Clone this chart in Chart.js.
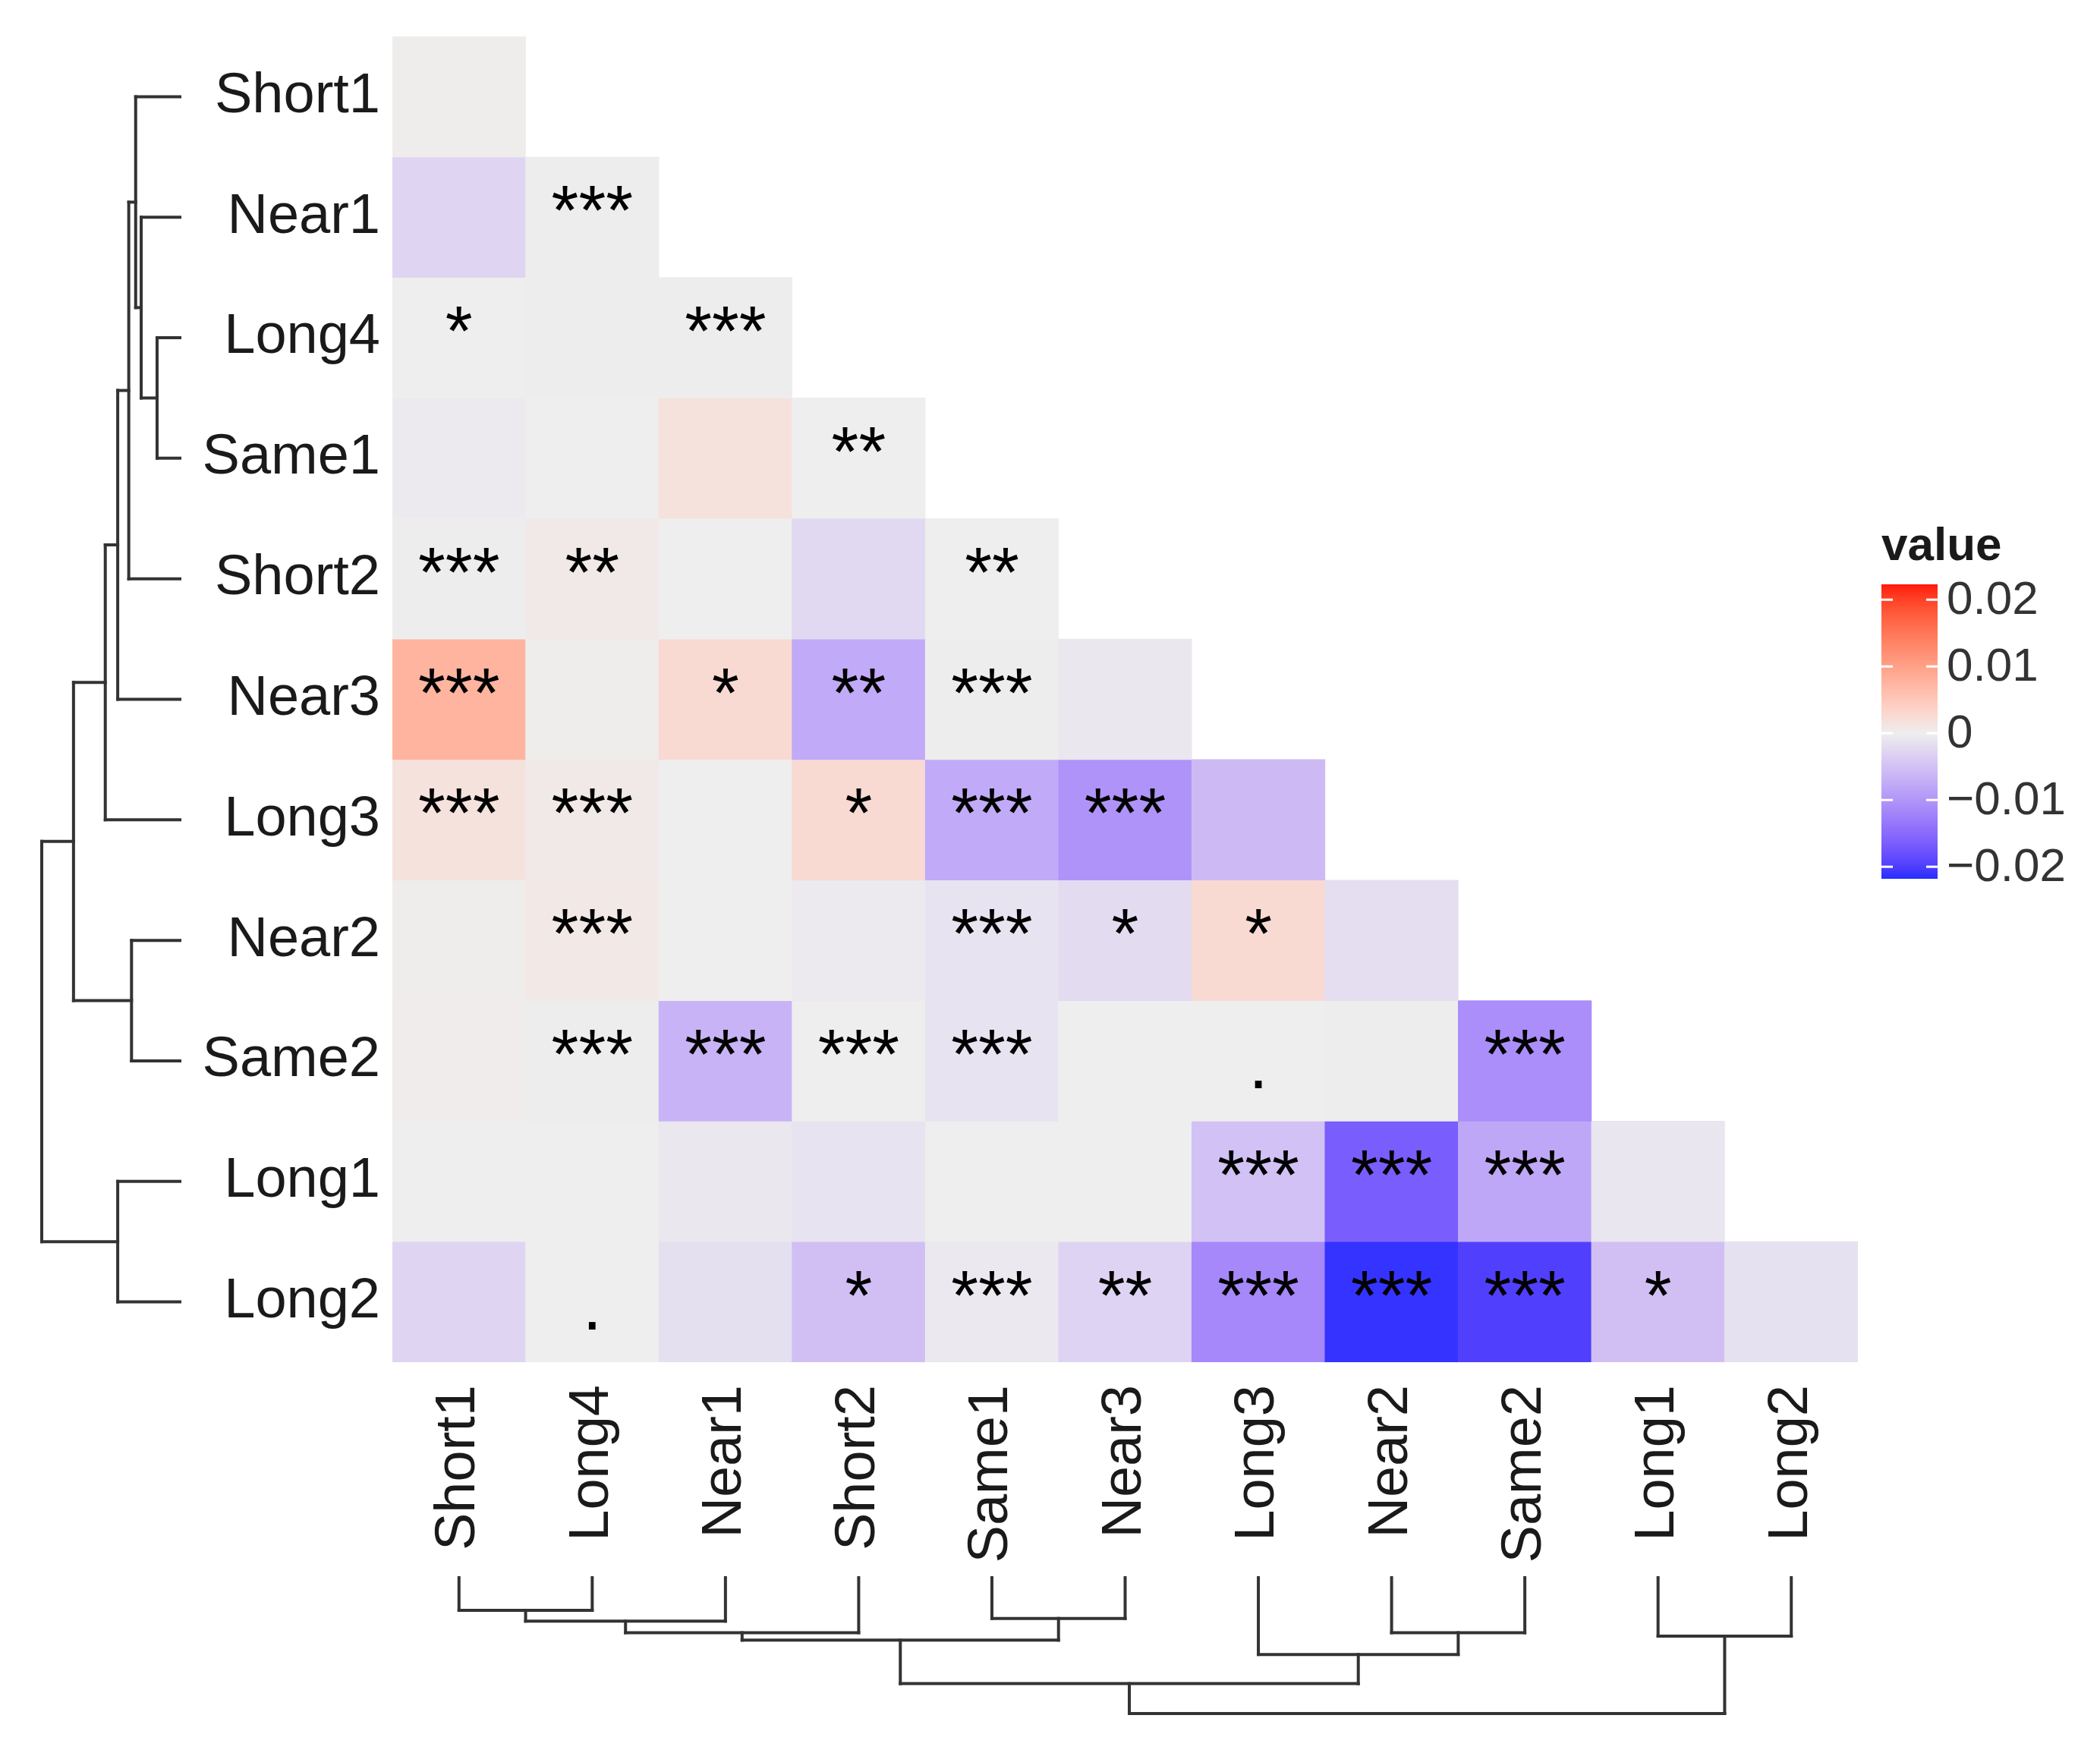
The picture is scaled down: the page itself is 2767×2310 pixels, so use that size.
<!DOCTYPE html>
<html>
<head>
<meta charset="utf-8">
<script src="https://cdn.jsdelivr.net/npm/chart.js@4.4.1/dist/chart.umd.min.js"></script>
<style>
  html, body { margin: 0; background: #fff; }
  #wrap { width: 2767px; height: 2310px; position: relative; }
</style>
</head>
<body>
<div id="wrap"><canvas id="heat"></canvas></div>
<script>
// rows top -> bottom, columns left -> right (dendrogram order)
const rowLabels = ['Short1', 'Near1', 'Long4', 'Same1', 'Short2', 'Near3', 'Long3', 'Near2', 'Same2', 'Long1', 'Long2'];
const colLabels = ['Short1', 'Long4', 'Near1', 'Short2', 'Same1', 'Near3', 'Long3', 'Near2', 'Same2', 'Long1', 'Long2'];

// lower triangle, row i has i+1 cells
const cellValues = [
  [0.0002],
  [-0.0028, 0.0001],
  [0.0000, 0.0001, 0.0001],
  [-0.0004, 0.0000, 0.0016, 0.0000],
  [0.0001, 0.0006, 0.0000, -0.0024, 0.0000],
  [0.0076, 0.0002, 0.0026, -0.0076, 0.0001, -0.0008],
  [0.0016, 0.0007, 0.0000, 0.0026, -0.0076, -0.0102, -0.0058],
  [0.0002, 0.0008, 0.0000, -0.0004, -0.0012, -0.0020, 0.0026, -0.0018],
  [0.0003, 0.0001, -0.0066, 0.0000, -0.0012, 0.0000, 0.0000, 0.0001, -0.0108],
  [0.0000, 0.0000, -0.0008, -0.0012, 0.0000, 0.0000, -0.0050, -0.0165, -0.0080, -0.0009],
  [-0.0028, 0.0000, -0.0016, -0.0052, -0.0006, -0.0030, -0.0115, -0.0212, -0.0198, -0.0052, -0.0014]
];
const cellStars = [
  [''],
  ['', '***'],
  ['*', '', '***'],
  ['', '', '', '**'],
  ['***', '**', '', '', '**'],
  ['***', '', '*', '**', '***', ''],
  ['***', '***', '', '*', '***', '***', ''],
  ['', '***', '', '', '***', '*', '*', ''],
  ['', '***', '***', '***', '***', '', '.', '', '***'],
  ['', '', '', '', '', '', '***', '***', '***', ''],
  ['', '.', '', '*', '***', '**', '***', '***', '***', '*', '']
];

// hclust-style merges: positive = leaf (1-based, display order), negative = earlier merge
const rowMerges = [
  [3, 4, 0.165], [2, -1, 0.28], [1, -2, 0.32], [-3, 5, 0.37], [-4, 6, 0.45],
  [-5, 7, 0.54], [8, 9, 0.35], [-6, -7, 0.77], [10, 11, 0.45], [-8, -9, 1.0]
];
const colMerges = [
  [1, 2, 0.24], [-1, 3, 0.32], [-2, 4, 0.405], [5, 6, 0.30], [-3, -4, 0.46],
  [8, 9, 0.405], [7, -6, 0.565], [-5, -7, 0.78], [10, 11, 0.43], [-8, -9, 1.0]
];

const legendTitle = 'value';
const legendTicks = [0.02, 0.01, 0, -0.01, -0.02];
const legendLimits = [-0.0218, 0.0223];

// ---- colour scale: gradient2 interpolated in Lab (blue - grey - red)
const WHITE = [0.95047, 1, 1.08883];
const toLin = c => { c /= 255; return c <= 0.04045 ? c / 12.92 : Math.pow((c + 0.055) / 1.055, 2.4); };
const fromLin = c => { const v = c <= 0.0031308 ? 12.92 * c : 1.055 * Math.pow(c, 1 / 2.4) - 0.055; return Math.round(Math.max(0, Math.min(1, v)) * 255); };
const fLab = t => t > 0.008856 ? Math.cbrt(t) : 7.787 * t + 16 / 116;
const fInv = t => t > 0.206893 ? t * t * t : (t - 16 / 116) / 7.787;
function rgbToLab(rgb) {
  const [r, g, b] = rgb.map(toLin);
  const X = 0.4124 * r + 0.3576 * g + 0.1805 * b, Y = 0.2126 * r + 0.7152 * g + 0.0722 * b, Z = 0.0193 * r + 0.1192 * g + 0.9505 * b;
  const fx = fLab(X / WHITE[0]), fy = fLab(Y / WHITE[1]), fz = fLab(Z / WHITE[2]);
  return [116 * fy - 16, 500 * (fx - fy), 200 * (fy - fz)];
}
function labToRgb([L, a, b]) {
  const fy = (L + 16) / 116, fx = fy + a / 500, fz = fy - b / 200;
  const X = fInv(fx) * WHITE[0], Y = fInv(fy) * WHITE[1], Z = fInv(fz) * WHITE[2];
  return [3.2406 * X - 1.5372 * Y - 0.4986 * Z, -0.9689 * X + 1.8758 * Y + 0.0415 * Z, 0.0557 * X - 0.2040 * Y + 1.0570 * Z].map(fromLin);
}
const LOW = rgbToLab([0, 40, 255]), MID = rgbToLab([238, 238, 238]), HIGH = rgbToLab([255, 20, 10]);
const maxAbs = Math.max(Math.abs(legendLimits[0]), Math.abs(legendLimits[1]));
function fillColor(v) {
  const t = Math.max(-1, Math.min(1, v / maxAbs));
  const end = t < 0 ? LOW : HIGH, k = Math.abs(t);
  const rgb = labToRgb(MID.map((m, i) => m + (end[i] - m) * k));
  return `rgb(${rgb[0]},${rgb[1]},${rgb[2]})`;
}

// one floating-bar dataset per row
const datasets = rowLabels.map((name, r) => ({
  label: name,
  data: colLabels.map((c, j) => j <= r ? [r, r + 1] : null),
  backgroundColor: colLabels.map((c, j) => j <= r ? fillColor(cellValues[r][j]) : 'transparent'),
  borderWidth: 0,
  grouped: false,
  barPercentage: 1,
  categoryPercentage: 1
}));

const FONT = "'Liberation Sans', Arial, sans-serif";

const whiteBg = {
  id: 'whiteBg',
  beforeDraw(chart) {
    const ctx = chart.ctx;
    ctx.save(); ctx.fillStyle = '#fff'; ctx.fillRect(0, 0, chart.width, chart.height); ctx.restore();
  }
};

const starLabels = {
  id: 'starLabels',
  afterDatasetsDraw(chart) {
    const { ctx, scales: { x, y } } = chart;
    ctx.save();
    ctx.font = `92px ${FONT}`;
    ctx.fillStyle = '#000';
    ctx.textAlign = 'center';
    ctx.textBaseline = 'alphabetic';
    cellStars.forEach((row, r) => row.forEach((s, j) => {
      if (!s) return;
      const dy = s === '.' ? 36 : 23;
      ctx.fillText(s, x.getPixelForValue(j), y.getPixelForValue(r + 0.5) + dy);
    }));
    ctx.restore();
  }
};

function drawDendro(ctx, merges, leafPos, toPx) {
  const nodes = [];
  const get = id => id > 0 ? { pos: leafPos(id - 1), h: 0 } : nodes[-id - 1];
  const seg = (p1, h1, p2, h2) => {
    const a = toPx(p1, h1), b = toPx(p2, h2);
    ctx.beginPath(); ctx.moveTo(a[0], a[1]); ctx.lineTo(b[0], b[1]); ctx.stroke();
  };
  merges.forEach(([m1, m2, h]) => {
    const A = get(m1), B = get(m2);
    seg(A.pos, A.h, A.pos, h);
    seg(B.pos, B.h, B.pos, h);
    seg(A.pos, h, B.pos, h);
    nodes.push({ pos: (A.pos + B.pos) / 2, h });
  });
}

const dendrograms = {
  id: 'dendrograms',
  afterDraw(chart) {
    const { ctx, scales: { x, y } } = chart;
    ctx.save();
    ctx.strokeStyle = '#333';
    ctx.lineWidth = 4;
    ctx.lineCap = 'square';
    const leftTip = y.left, leftRoot = 55;
    drawDendro(ctx, rowMerges, i => y.getPixelForValue(i + 0.5),
      (p, h) => [leftTip - h * (leftTip - leftRoot), p]);
    const bottomTip = x.bottom + 4, bottomRoot = 2258;
    drawDendro(ctx, colMerges, j => x.getPixelForValue(j),
      (p, h) => [p, bottomTip + h * (bottomRoot - bottomTip)]);
    ctx.restore();
  }
};

const colourBar = {
  id: 'colourBar',
  afterDraw(chart) {
    const ctx = chart.ctx;
    const bx = 2479, bw = 74, top = 770, bottom = 1158;
    const [lo, hi] = legendLimits;
    const vy = v => top + (hi - v) / (hi - lo) * (bottom - top);
    ctx.save();
    for (let py = top; py < bottom; py++) {
      const v = hi - (py + 0.5 - top) / (bottom - top) * (hi - lo);
      ctx.fillStyle = fillColor(v);
      ctx.fillRect(bx, py, bw, 1);
    }
    ctx.strokeStyle = '#fff';
    ctx.lineWidth = 3;
    legendTicks.forEach(t => {
      const py = vy(t);
      ctx.beginPath(); ctx.moveTo(bx, py); ctx.lineTo(bx + 15, py); ctx.stroke();
      ctx.beginPath(); ctx.moveTo(bx + bw - 15, py); ctx.lineTo(bx + bw, py); ctx.stroke();
    });
    ctx.fillStyle = '#1a1a1a';
    ctx.font = `bold 62px ${FONT}`;
    ctx.textAlign = 'left';
    ctx.textBaseline = 'alphabetic';
    ctx.fillText(legendTitle, bx, 738);
    ctx.font = `62px ${FONT}`;
    ctx.textBaseline = 'middle';
    ctx.fillStyle = '#333';
    legendTicks.forEach(t => {
      const txt = t === 0 ? '0' : (t < 0 ? '\u2212' : '') + Math.abs(t).toFixed(2);
      ctx.fillText(txt, bx + bw + 12, vy(t) + 2);
    });
    ctx.restore();
  }
};

new Chart(document.getElementById('heat'), {
  type: 'bar',
  data: { labels: colLabels, datasets },
  plugins: [whiteBg, starLabels, dendrograms, colourBar],
  options: {
    responsive: true,
    maintainAspectRatio: false,
    devicePixelRatio: 1,
    animation: false,
    layout: { autoPadding: false, padding: { left: 237, right: 319, top: 48, bottom: 235 } },
    plugins: { legend: { display: false }, tooltip: { enabled: false } },
    scales: {
      x: {
        type: 'category',
        grid: { display: false, drawTicks: false },
        border: { display: false },
        ticks: {
          autoSkip: false, minRotation: 90, maxRotation: 90, padding: 30,
          color: '#1a1a1a', font: { family: FONT, size: 74 }
        },
        afterFit: s => { s.height = 280; s.paddingLeft = 0; s.paddingRight = 0; }
      },
      y: {
        type: 'linear', min: 0, max: 11, reverse: true,
        grid: { display: false, drawTicks: false },
        border: { display: false },
        afterBuildTicks: s => { s.ticks = rowLabels.map((_, i) => ({ value: i + 0.5 })); },
        ticks: {
          padding: 16, color: '#1a1a1a', font: { family: FONT, size: 74 },
          callback: (v, i) => rowLabels[i]
        },
        afterFit: s => { s.width = 280; s.paddingTop = 0; s.paddingBottom = 0; }
      }
    }
  }
});
</script>
</body>
</html>
